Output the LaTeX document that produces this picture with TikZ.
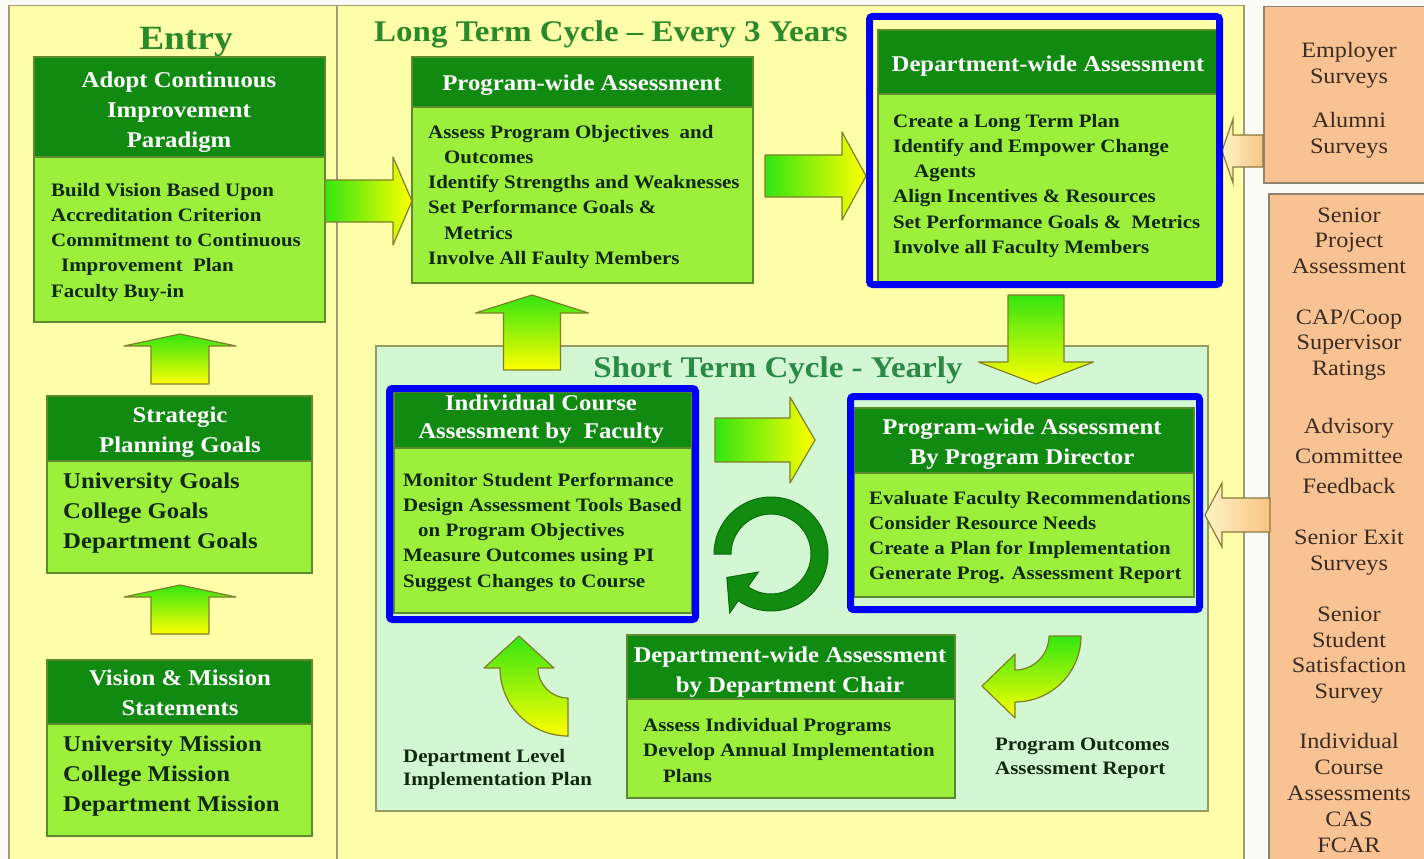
\documentclass[tikz,border=0pt]{standalone}
\usepackage{fontspec}
\setmainfont{Liberation Serif}[FakeStretch=1.1]
\definecolor{pagebg}{HTML}{FAFAF6}
\definecolor{ybg}{HTML}{FFFFAA}
\definecolor{ybd}{HTML}{A09C78}
\definecolor{stbg}{HTML}{D2F7D2}
\definecolor{stbd}{HTML}{9A9A62}
\definecolor{hdrg}{HTML}{108A10}
\definecolor{bodyg}{HTML}{9CF03C}
\definecolor{bordg}{HTML}{5E8A2E}
\definecolor{ttlg}{HTML}{2A8A2A}
\definecolor{sttlg}{HTML}{2A8A46}
\definecolor{orng}{HTML}{F9C292}
\definecolor{ornbd}{HTML}{8F8470}
\definecolor{orntxt}{HTML}{3A2C22}
\definecolor{txtd}{HTML}{102810}
\definecolor{arrg}{HTML}{33E611}
\definecolor{arry}{HTML}{FFFF00}
\definecolor{arrbd}{HTML}{7F7F2A}
\definecolor{ringg}{HTML}{118C11}
\definecolor{ringbd}{HTML}{0C6A0C}
\definecolor{oarrL}{HTML}{FFF4C4}
\definecolor{oarrR}{HTML}{F6C485}
\definecolor{oarrbd}{HTML}{8C7A3A}
\newcommand\hdrfont{\fontsize{22.5}{30}\selectfont\bfseries}
\newcommand\bdyfont{\fontsize{19}{25.3}\selectfont\bfseries}
\newcommand\bigbdyfont{\fontsize{22.5}{30}\selectfont\bfseries}
\newcommand\ornfont{\fontsize{22}{25.5}\selectfont}
\tikzset{
  hdr/.style={fill=hdrg, draw=bordg, line width=1.2pt, anchor=north west, inner sep=0pt, outer sep=0pt},
  bdy/.style={fill=bodyg, draw=bordg, line width=1.2pt, anchor=north west, inner sep=0pt, outer sep=0pt},
  htxt/.style={anchor=base, align=center, inner sep=0pt, text=white, font=\hdrfont},
  btxt/.style={anchor=base west, align=left, inner sep=0pt, text=txtd, font=\bdyfont},
  lbl/.style={anchor=base west, align=left, inner sep=0pt, text=txtd, font=\fontsize{19}{23.5}\selectfont\bfseries},
  ttl/.style={anchor=base, inner sep=0pt, text=ttlg},
  otxt/.style={anchor=base, align=center, inner sep=0pt, text=orntxt, font=\ornfont},
  obox/.style={fill=orng, draw=ornbd, line width=1.5pt, anchor=north west, inner sep=0pt},
  blockarrow/.style={draw=arrbd, line width=1.2pt, line join=round},
  garrowh/.style={blockarrow, left color=arrg, right color=arry},
  garrowv/.style={blockarrow, top color=arrg, bottom color=arry},
  oarrow/.style={draw=oarrbd, line width=1.2pt, left color=oarrL, right color=oarrR},
  bframe/.style={draw=blue, line width=7pt, rounded corners=3pt},
  ring/.style={fill=ringg, draw=ringbd, line width=1pt}
}
% name, x1, y top, y header bottom, x2, y bottom
\newcommand\gbox[6]{%
  \node[bdy, minimum width={(#5-#2)*1pt}, minimum height={(#6-#4)*1pt}] (#1) at (#2,#4) {};
  \node[hdr, minimum width={(#5-#2)*1pt}, minimum height={(#4-#3)*1pt}] (#1H) at (#2,#3) {};
}
% start x, head base x, tip x, y centre, shaft half, head half, style
\newcommand\harrow[7]{%
  \shadedraw[#7] (#1,{#4-#5}) -- (#2,{#4-#5}) -- (#2,{#4-#6}) -- (#3,#4) -- (#2,{#4+#6}) -- (#2,{#4+#5}) -- (#1,{#4+#5}) -- cycle;
}
% x centre, start y, head base y, tip y, shaft half, head half
\newcommand\varrow[6]{%
  \shadedraw[garrowv] ({#1-#5},#2) -- ({#1-#5},#3) -- ({#1-#6},#3) -- (#1,#4) -- ({#1+#6},#3) -- ({#1+#5},#3) -- ({#1+#5},#2) -- cycle;
}
\begin{document}
\begin{tikzpicture}[x=1pt,y=-1pt]
\useasboundingbox (0,0) rectangle (1424,859);
\fill[pagebg] (0,0) rectangle (1424,859);
% panels
\node[fill=ybg, draw=ybd, line width=1.5pt, anchor=north west, minimum width=1235pt, minimum height=880pt, inner sep=0pt] (main) at (8,5) {};
\draw[ybd, line width=1.5pt] (337,5) -- (337,885);
\node[obox, minimum width=170pt, minimum height=176pt] (obox1) at (1263,6) {};
\node[obox, minimum width=170pt, minimum height=690pt] (obox2) at (1268,193) {};
\node[fill=stbg, draw=stbd, line width=1.5pt, anchor=north west, minimum width=832pt, minimum height=465pt, inner sep=0pt] (st) at (375,345) {};
% titles
\node[ttl, font=\fontsize{34}{40}\selectfont\bfseries] (entryT) at (186,50) {Entry};
\node[ttl, font=\fontsize{30}{36}\selectfont\bfseries] (ltT) at (611,42) {Long Term Cycle – Every 3 Years};
\node[ttl, text=sttlg, font=\fontsize{30}{36}\selectfont\bfseries] (stT) at (778,377) {Short Term Cycle - Yearly};
% boxes
\gbox{adopt}{34}{57}{157}{325}{322}
\gbox{strat}{47}{396}{461}{312}{573}
\gbox{vision}{47}{660}{724}{312}{836}
\gbox{pw}{412}{57}{107}{753}{283}
\gbox{dw}{878}{30}{94}{1217}{282}
\gbox{ica}{394}{392}{448}{692}{613}
\gbox{pd}{854}{408}{473}{1194}{597}
\gbox{dc}{627}{635}{699}{955}{798}
% box texts (anchor base = last line baseline)
\node[htxt] (adoptT) at (179,147) {Adopt Continuous\\Improvement\\Paradigm};
\node[btxt] (adoptL) at (51,297.2) {Build Vision Based Upon\\Accreditation Criterion\\Commitment to Continuous\\\hspace*{10pt}Improvement\ \ Plan\\Faculty Buy-in};
\node[htxt] (stratT) at (180,452) {Strategic\\Planning Goals};
\node[btxt, font=\bigbdyfont] (stratL) at (63,548) {University Goals\\College Goals\\Department Goals};
\node[htxt] (visionT) at (180,715) {Vision \& Mission\\Statements};
\node[btxt, font=\bigbdyfont] (visionL) at (63,811) {University Mission\\College Mission\\Department Mission};
\node[htxt] (pwT) at (582,91) {Program-wide Assessment};
\node[btxt] (pwL) at (428,264.5) {Assess Program Objectives\ \ and\\\hspace*{16pt}Outcomes\\Identify Strengths and Weaknesses\\Set Performance Goals \&\\\hspace*{16pt}Metrics\\Involve All Faulty Members};
\node[htxt] (dwT) at (1048,72) {Department-wide Assessment};
\node[btxt] (dwL) at (893,253.5) {Create a Long Term Plan\\Identify and Empower Change\\\hspace*{21pt}Agents\\Align Incentives \& Resources\\Set Performance Goals \&\ \ Metrics\\Involve all Faculty Members};
\node[htxt, font=\fontsize{22.5}{28}\selectfont\bfseries] (icaT) at (541,438) {Individual Course\\Assessment by\ \ Faculty};
\node[btxt] (icaL) at (403,587.2) {Monitor Student Performance\\Design Assessment Tools Based\\\hspace*{15pt}on Program Objectives\\Measure Outcomes using PI\\Suggest Changes to Course};
\node[htxt] (pdT) at (1022,464) {Program-wide Assessment\\By Program Director};
\node[btxt] (pdL) at (869,579.9) {Evaluate Faculty Recommendations\\Consider Resource Needs\\Create a Plan for Implementation\\Generate Prog. Assessment Report};
\node[htxt] (dcT) at (790,692) {Department-wide Assessment\\by Department Chair};
\node[btxt] (dcL) at (643,782.1) {Assess Individual Programs\\Develop Annual Implementation\\\hspace*{20pt}Plans};
% free labels
\node[lbl] (dlip) at (403,785.5) {Department Level\\Implementation Plan};
\node[lbl] (poar) at (995,774) {Program Outcomes\\Assessment Report};
% orange texts
\node[otxt] (o1) at (1349,83) {Employer\\Surveys};
\node[otxt] (o2) at (1349,153) {Alumni\\Surveys};
\node[otxt] (o3) at (1349,273) {Senior\\Project\\Assessment};
\node[otxt] (o4) at (1349,375) {CAP/Coop\\Supervisor\\Ratings};
\node[otxt, font=\fontsize{22}{30}\selectfont] (o5) at (1349,493) {Advisory\\Committee\\Feedback};
\node[otxt] (o6) at (1349,570) {Senior Exit\\Surveys};
\node[otxt] (o7) at (1349,698) {Senior\\Student\\Satisfaction\\Survey};
\node[otxt, font=\fontsize{22}{26}\selectfont] (o8) at (1349,852) {Individual\\Course\\Assessments\\CAS\\FCAR};
% block arrows
\harrow{325}{393}{412}{201}{21}{44}{garrowh}
\harrow{765}{842}{866}{176}{21}{44}{garrowh}
\harrow{715}{790}{815}{440}{22}{43}{garrowh}
\harrow{1263}{1233}{1222}{151}{16}{32}{oarrow}
\harrow{1270}{1222}{1205}{515}{17}{32}{oarrow}
\varrow{180}{384}{346}{334}{29}{56}
\varrow{180}{634}{597}{585}{29}{56}
\varrow{532}{370}{313}{295}{28.5}{56.5}
\varrow{1036}{295}{362}{384}{28}{57.5}
% curved arrows
\begin{scope}[shift={(568,668)}]
\shadedraw[garrowv] (90:68) arc[start angle=90,end angle=180,radius=68] -- (-84,0) -- (-49,-32) -- (-14,0) -- (-30,0) arc[start angle=180,end angle=90,radius=30] -- cycle;
\end{scope}
\begin{scope}[shift={(1015,636)}]
\shadedraw[garrowv] (0:66) arc[start angle=0,end angle=90,radius=66] -- (0,82) -- (-33,50) -- (0,18) -- (0,34) arc[start angle=90,end angle=0,radius=34] -- cycle;
\end{scope}
% cycle ring
\begin{scope}[shift={(771,554)}]
\filldraw[ring] (180:57) arc[start angle=180,end angle=485,radius=57] -- (485:72) -- (512:50) -- (485:22) -- (485:40) arc[start angle=485,end angle=180,radius=40] -- cycle;
\end{scope}
% blue frames
\draw[bframe] (869.5,16.5) rectangle (1219.5,284.5);
\draw[bframe] (389.5,388.5) rectangle (695.5,619.5);
\draw[bframe] (850.5,396.5) rectangle (1199.5,609.5);
\end{tikzpicture}
\end{document}
